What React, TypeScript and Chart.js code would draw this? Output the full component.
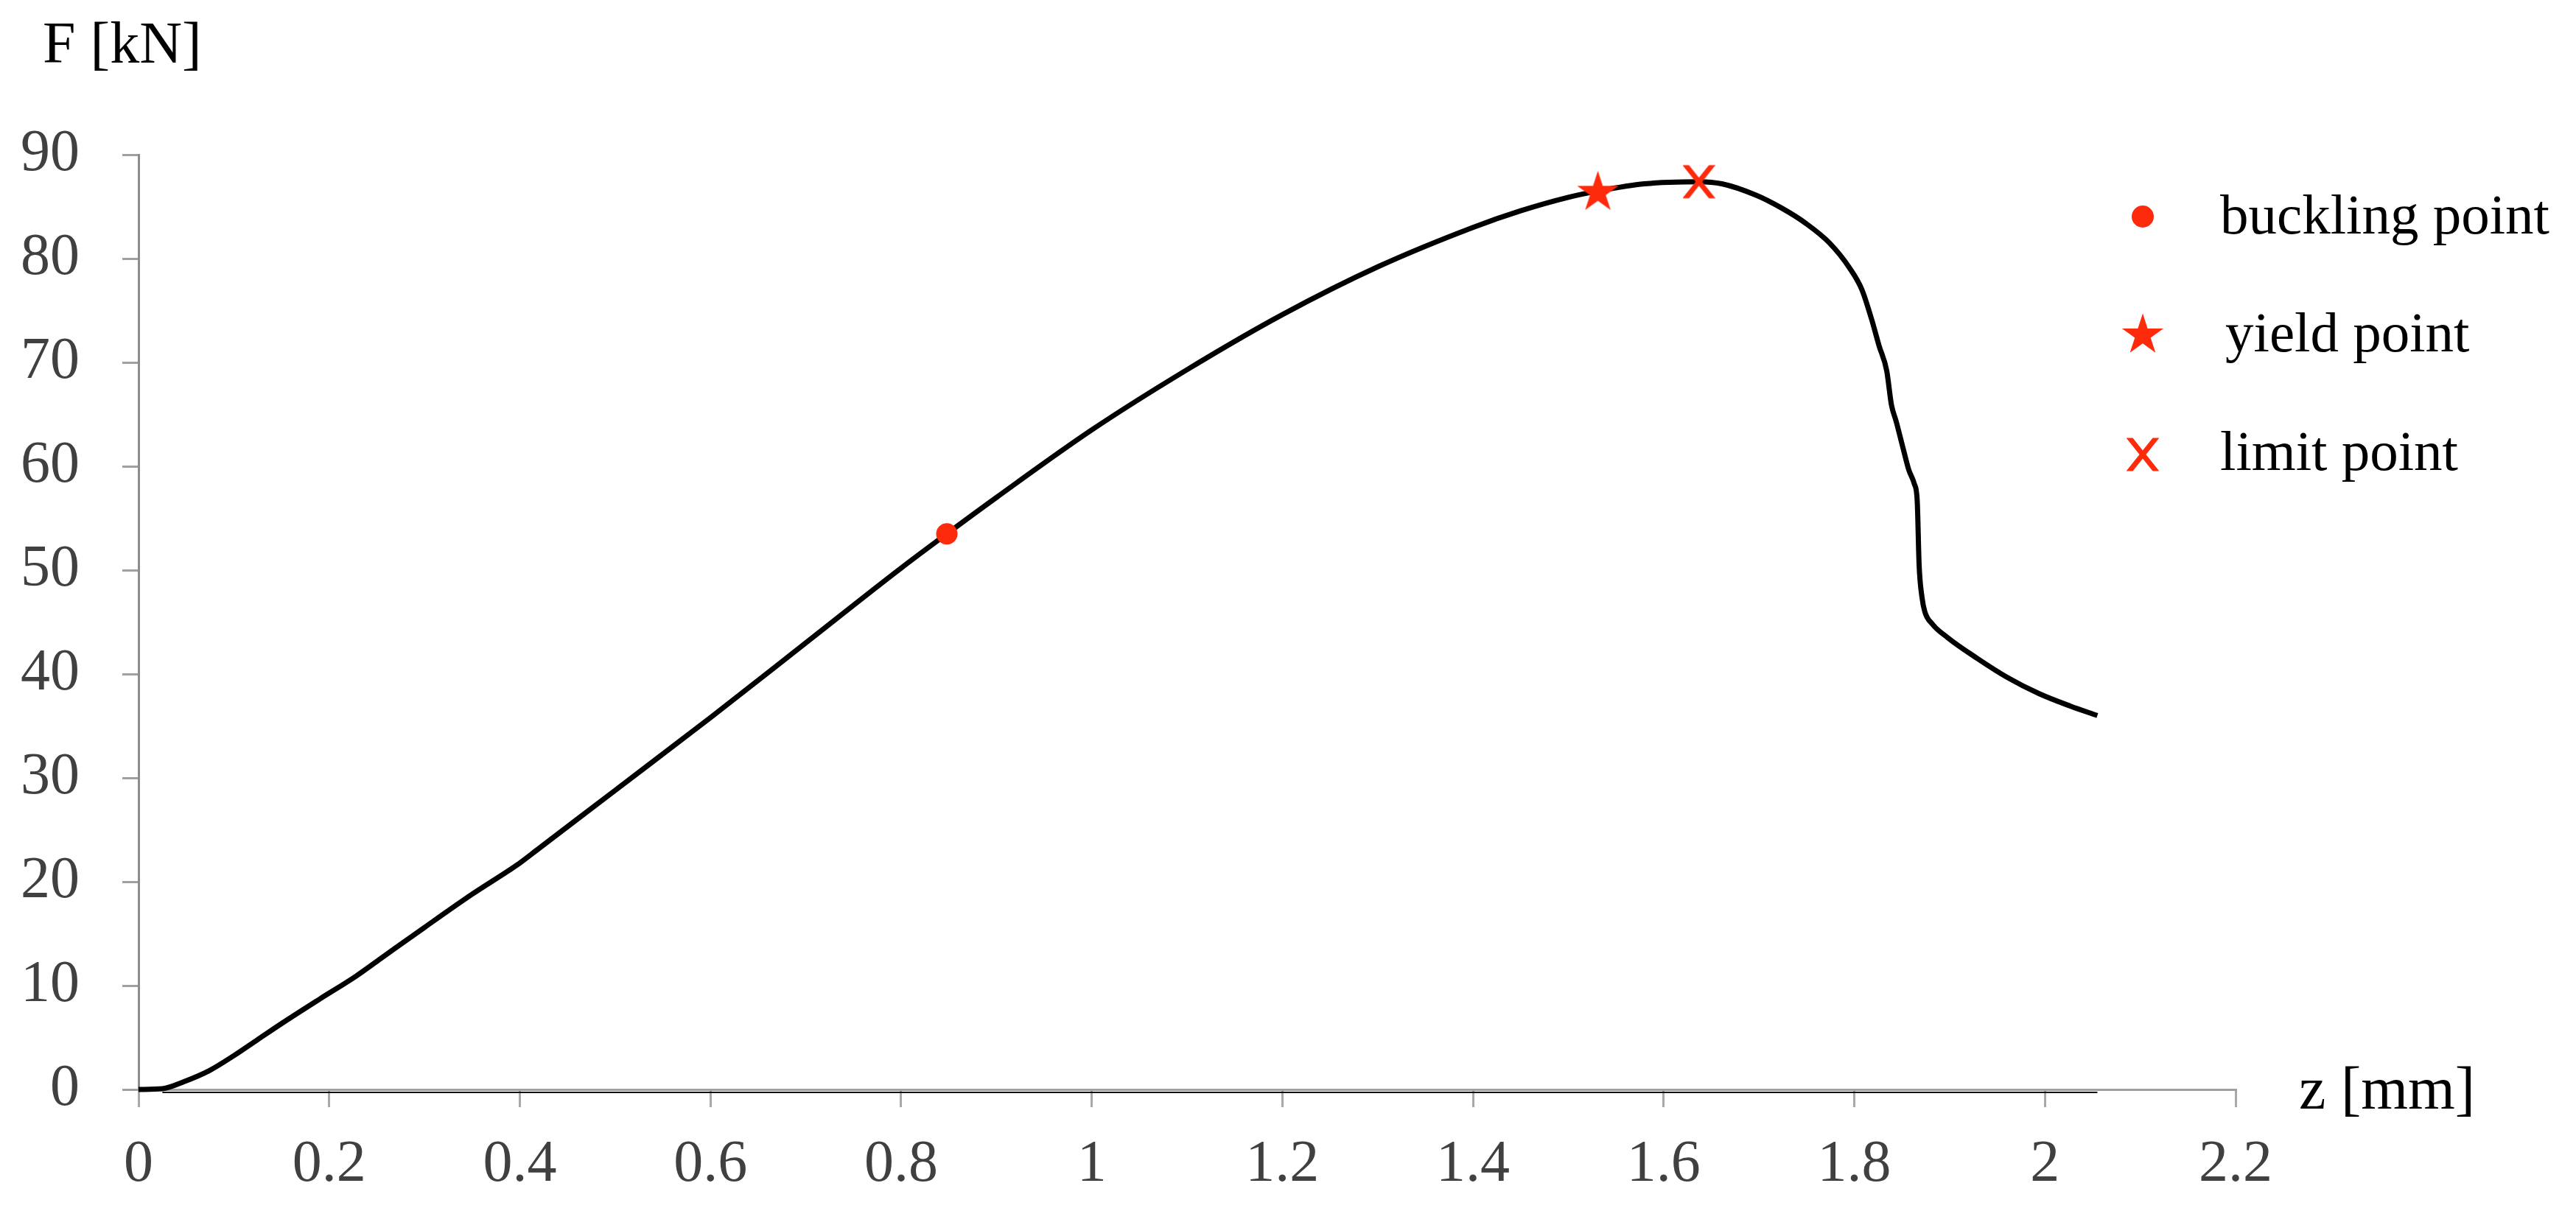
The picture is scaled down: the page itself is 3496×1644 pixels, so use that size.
import React, { useEffect, useRef } from 'react';
import { Chart, registerables } from 'chart.js';

Chart.register(...registerables);

// ---- data ----
const curveZ = [0, 0.025, 0.048, 0.074, 0.1, 0.125, 0.151, 0.19, 0.228, 0.254, 0.3, 0.35, 0.4, 0.42, 0.5, 0.6, 0.7, 0.8, 0.848, 0.9, 1.0, 1.1, 1.2, 1.3, 1.4, 1.45, 1.5, 1.531, 1.58, 1.637, 1.661, 1.697, 1.723, 1.749, 1.774, 1.795, 1.808, 1.818, 1.826, 1.834, 1.839, 1.844, 1.851, 1.857, 1.863, 1.866, 1.868, 1.871, 1.874, 1.882, 1.898, 1.929, 1.96, 1.994, 2.027, 2.055];
const curveF = [0, 0.07, 0.76, 1.8, 3.25, 4.8, 6.4, 8.7, 10.9, 12.6, 15.6, 18.8, 21.8, 23.2, 28.8, 35.8, 43.0, 50.2, 53.5, 57.0, 63.5, 69.3, 74.6, 79.2, 83.0, 84.6, 85.9, 86.5, 87.2, 87.4, 87.2, 86.1, 84.9, 83.4, 81.5, 79.1, 77.0, 74.2, 71.6, 69.2, 65.9, 64.3, 61.8, 59.7, 58.3, 56.7, 50.5, 47.4, 46.0, 44.8, 43.5, 41.5, 39.7, 38.1, 36.9, 36.0];
const baselineZ = [0.025, 2.055];
const baselineF = [-0.28, -0.28];
const bucklingZ = [0.848];
const bucklingF = [53.5];
const yieldZ = [1.531];
const yieldF = [86.5];
const limitZ = [1.637];
const limitF = [87.4];
const legendLabels = ['buckling point', 'yield point', 'limit point'];
const xTicks = [0, 0.2, 0.4, 0.6, 0.8, 1, 1.2, 1.4, 1.6, 1.8, 2, 2.2];
const yTicks = [0, 10, 20, 30, 40, 50, 60, 70, 80, 90];
const xTitle = 'z [mm]';
const yTitle = 'F [kN]';

const RED = '#fd2a0c';
const SERIF = "'Liberation Serif', 'DejaVu Serif', serif";

function zip(xs: number[], ys: number[]) {
  return xs.map((x, i) => ({ x, y: ys[i] }));
}

function makeStar(): HTMLCanvasElement {
  const R = 29.5;
  const size = 64;
  const c = document.createElement('canvas');
  c.width = size;
  c.height = size;
  const ctx = c.getContext('2d')!;
  const cx = size / 2;
  const cy = size / 2 + 2;
  const r = R * 0.382;
  ctx.beginPath();
  for (let i = 0; i < 10; i++) {
    const rad = i % 2 === 0 ? R : r;
    const a = -Math.PI / 2 + (i * Math.PI) / 5;
    const px = cx + rad * Math.cos(a);
    const py = cy + rad * Math.sin(a);
    if (i === 0) ctx.moveTo(px, py);
    else ctx.lineTo(px, py);
  }
  ctx.closePath();
  ctx.fillStyle = RED;
  ctx.fill();
  return c;
}

function makeX(): HTMLCanvasElement {
  const w = 44;
  const h = 52;
  const c = document.createElement('canvas');
  c.width = w;
  c.height = h;
  const ctx = c.getContext('2d')!;
  ctx.save();
  ctx.beginPath();
  ctx.rect(0, 3.5, w, 45);
  ctx.clip();
  ctx.strokeStyle = RED;
  ctx.lineWidth = 7;
  const x0 = 4, x1 = 40, y0 = 3.5, y1 = 48.5;
  const dx = (x1 - x0) * 0.2, dy = (y1 - y0) * 0.2;
  ctx.beginPath();
  ctx.moveTo(x0 - dx, y0 - dy);
  ctx.lineTo(x1 + dx, y1 + dy);
  ctx.moveTo(x1 + dx, y0 - dy);
  ctx.lineTo(x0 - dx, y1 + dy);
  ctx.stroke();
  ctx.restore();
  return c;
}

export default function App() {
  const ref = useRef<HTMLCanvasElement | null>(null);

  useEffect(() => {
    document.body.style.margin = '0';
    const canvas = ref.current;
    if (!canvas) return;
    const star = makeStar();
    const xMark = makeX();

    const overlay = {
      id: 'overlay',
      afterDraw(chart: any) {
        const ctx = chart.ctx;
        const area = chart.chartArea;
        ctx.save();
        ctx.fillStyle = '#000';
        ctx.textBaseline = 'alphabetic';
        ctx.textAlign = 'left';
        ctx.font = `80px ${SERIF}`;
        ctx.fillText(yTitle, area.left - 130, area.top - 125);
        ctx.font = `82px ${SERIF}`;
        ctx.fillText(xTitle, area.right + 86, area.bottom + 26);

        // legend
        const mx = area.right - 126;
        const tx = area.right - 21;
        const markY = [area.top + 84, area.top + 243, area.top + 407];
        const baseY = [area.top + 107, area.top + 267, area.top + 428];
        ctx.fillStyle = RED;
        ctx.beginPath();
        ctx.arc(mx, markY[0], 15, 0, Math.PI * 2);
        ctx.fill();
        ctx.drawImage(star, mx - star.width / 2, markY[1] - star.height / 2);
        ctx.drawImage(xMark, mx - xMark.width / 2, markY[2] - xMark.height / 2);
        ctx.fillStyle = '#000';
        ctx.font = `77px ${SERIF}`;
        legendLabels.forEach((t, i) => {
          ctx.fillText(t, tx + (i === 1 ? 7 : 0), baseY[i]);
        });
        ctx.restore();
      },
    };

    const chart = new Chart(canvas, {
      type: 'line',
      data: {
        datasets: [
          {
            label: legendLabels[0],
            data: zip(bucklingZ, bucklingF),
            showLine: false,
            pointStyle: 'circle',
            pointRadius: 14.5,
            pointBackgroundColor: RED,
            pointBorderWidth: 0,
            borderColor: RED,
            clip: false,
          } as any,
          {
            label: legendLabels[1],
            data: zip(yieldZ, yieldF),
            showLine: false,
            pointStyle: star,
            pointRadius: 30,
            clip: false,
          } as any,
          {
            label: legendLabels[2],
            data: zip(limitZ, limitF),
            showLine: false,
            pointStyle: xMark,
            pointRadius: 25,
            clip: false,
          } as any,
          {
            label: 'curve',
            data: zip(curveZ, curveF),
            borderColor: '#000',
            borderWidth: 7,
            pointRadius: 0,
            fill: false,
            cubicInterpolationMode: 'monotone',
            borderCapStyle: 'butt',
            borderJoinStyle: 'round',
            clip: false,
          } as any,
          {
            label: 'baseline',
            data: zip(baselineZ, baselineF),
            borderColor: '#111',
            borderWidth: 2,
            pointRadius: 0,
            fill: false,
            clip: false,
          } as any,
        ],
      },
      options: {
        animation: false,
        responsive: false,
        devicePixelRatio: 1,
        events: [],
        layout: { padding: { left: 0, top: 210, right: 462, bottom: 0 } },
        plugins: {
          legend: { display: false },
          tooltip: { enabled: false },
          title: { display: false },
        },
        scales: {
          x: {
            type: 'linear',
            min: 0,
            max: 2.2,
            afterFit: (s: any) => {
              s.height = 165;
            },
            afterBuildTicks: (s: any) => {
              s.ticks = xTicks.map((v) => ({ value: v }));
            },
            ticks: {
              color: '#404040',
              font: { family: SERIF, size: 80 },
              padding: 31,
              maxRotation: 0,
              autoSkip: false,
              callback: (v: any) => String(Math.round(Number(v) * 10) / 10),
            },
            grid: {
              display: true,
              drawOnChartArea: false,
              drawTicks: true,
              tickLength: 24,
              color: '#a8a8a8',
              lineWidth: 3,
            },
            border: { display: true, color: '#a0a0a0', width: 3 },
          },
          y: {
            type: 'linear',
            min: 0,
            max: 90,
            afterFit: (s: any) => {
              s.width = 188;
            },
            afterBuildTicks: (s: any) => {
              s.ticks = yTicks.map((v) => ({ value: v }));
            },
            ticks: {
              color: '#404040',
              font: { family: SERIF, size: 80 },
              padding: 58,
              autoSkip: false,
              callback: (v: any) => String(v),
            },
            grid: {
              display: true,
              drawOnChartArea: false,
              drawTicks: true,
              tickLength: 22,
              color: '#a0a0a0',
              lineWidth: 3,
            },
            border: { display: true, color: '#8c8c8c', width: 3 },
          },
        },
      } as any,
      plugins: [overlay],
    });

    return () => {
      chart.destroy();
    };
  }, []);

  return (
    <div style={{ width: 3496, height: 1644, background: '#fff' }}>
      <canvas ref={ref} width={3496} height={1644} style={{ width: 3496, height: 1644, display: 'block' }} />
    </div>
  );
}
